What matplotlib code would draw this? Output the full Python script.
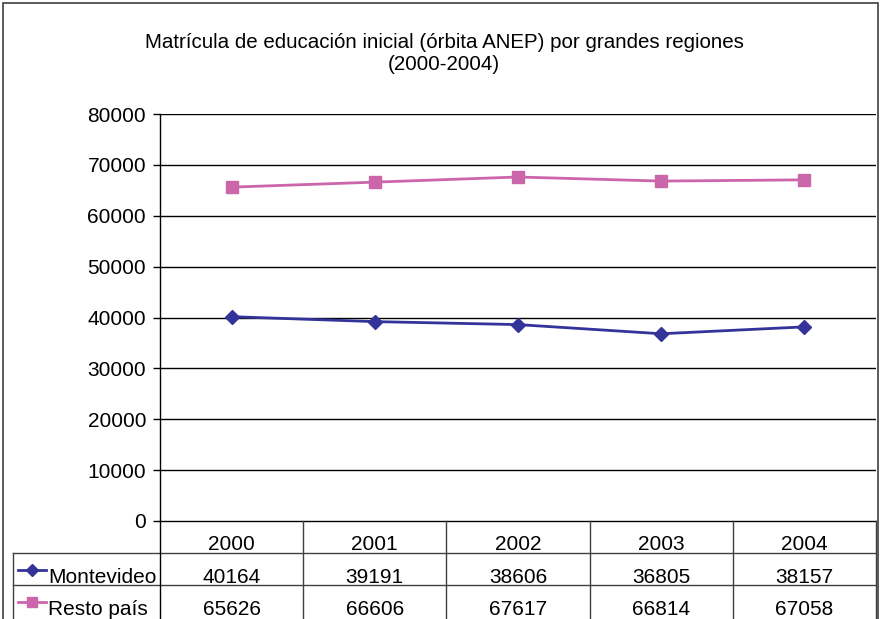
import matplotlib.pyplot as plt
from matplotlib.lines import Line2D
from matplotlib.patches import Rectangle

# ---- data ----
years = ['2000', '2001', '2002', '2003', '2004']
montevideo = [40164, 39191, 38606, 36805, 38157]
resto_pais = [65626, 66606, 67617, 66814, 67058]
series_names = ['Montevideo', 'Resto país']
yticks = [0, 10000, 20000, 30000, 40000, 50000, 60000, 70000, 80000]

title = 'Matrícula de educación inicial (órbita ANEP) por grandes regiones\n(2000-2004)'
colors = ['#333399', '#CC66AA']
markers = ['D', 's']

plt.rcParams['font.family'] = ['Liberation Sans', 'DejaVu Sans']

W, H = 881, 619
fig = plt.figure(figsize=(W / 100, H / 100), dpi=100)

def px_rect(x0, y0, x1, y1):
    return [x0 / W, 1 - y1 / H, (x1 - x0) / W, (y1 - y0) / H]

# outer chart border (bottom is cut off in the original)
fig.patches.append(Rectangle((3 / W, -0.1), (878 - 3) / W, 1.1 - 3 / H,
                             transform=fig.transFigure, fill=False,
                             edgecolor='#404040', lw=1.2))

fig.text(444 / W, 1 - 54 / H, title, ha='center', va='center',
         fontsize=14.8, linespacing=1.2)

# ---- plot area ----
left, right, top, bottom = 160, 876, 114, 521
ax = fig.add_axes(px_rect(left, top, right, bottom))
xs = list(range(len(years)))
for vals, c, m in zip([montevideo, resto_pais], colors, markers):
    ax.plot(xs, vals, color=c, lw=2, marker=m,
            markersize=7 if m == 'D' else 8, markeredgecolor=c)
ax.set_xlim(-0.5, len(years) - 0.5)
ax.set_ylim(0, 80000)
ax.set_yticks(yticks)
ax.set_yticklabels([str(v) for v in yticks], fontsize=15)
ax.set_xticks([])
ax.tick_params(axis='y', length=5, width=1, color='black', pad=5)
for v in yticks[1:]:
    ax.axhline(v, color='black', lw=1, zorder=0)
for s in ['top', 'right']:
    ax.spines[s].set_visible(False)
ax.spines['left'].set_linewidth(1)
ax.spines['bottom'].set_linewidth(1)

# ---- data table ----
tax = fig.add_axes(px_rect(0, bottom, W, H))
tax.set_xlim(0, W)
tax.set_ylim(H, bottom)
tax.axis('off')
col_w = (right - left) / len(years)
col_x = [left + i * col_w for i in range(len(years) + 1)]
row_y = [bottom, 553, 585, H + 40]
tbl_left = 13
lc = '#404040'
tax.plot([tbl_left, right], [row_y[1]] * 2, color=lc, lw=1, clip_on=False)
tax.plot([tbl_left, right], [row_y[2]] * 2, color=lc, lw=1, clip_on=False)
tax.plot([tbl_left, tbl_left], [row_y[1], row_y[3]], color=lc, lw=1, clip_on=False)
for x in col_x:
    tax.plot([x, x], [bottom, row_y[3]], color=lc if x != left else 'black',
             lw=1, clip_on=False)

for i, yr in enumerate(years):
    tax.text(col_x[i] + col_w / 2, 550, yr, ha='center', va='baseline', fontsize=15)

for r, (name, vals, c, m) in enumerate(zip(series_names, [montevideo, resto_pais],
                                          colors, markers)):
    base = row_y[r + 1] + 30
    ymid = row_y[r + 1] + 17
    tax.add_line(Line2D([18, 46], [ymid, ymid], color=c, lw=2))
    tax.add_line(Line2D([32], [ymid], color=c, marker=m,
                        markersize=6 if m == 'D' else 7, markeredgecolor=c))
    tax.text(48, base, name, ha='left', va='baseline', fontsize=15)
    for i, v in enumerate(vals):
        tax.text(col_x[i] + col_w / 2, base, str(v), ha='center', va='baseline',
                 fontsize=15)

fig.savefig('out.png', dpi=100)
